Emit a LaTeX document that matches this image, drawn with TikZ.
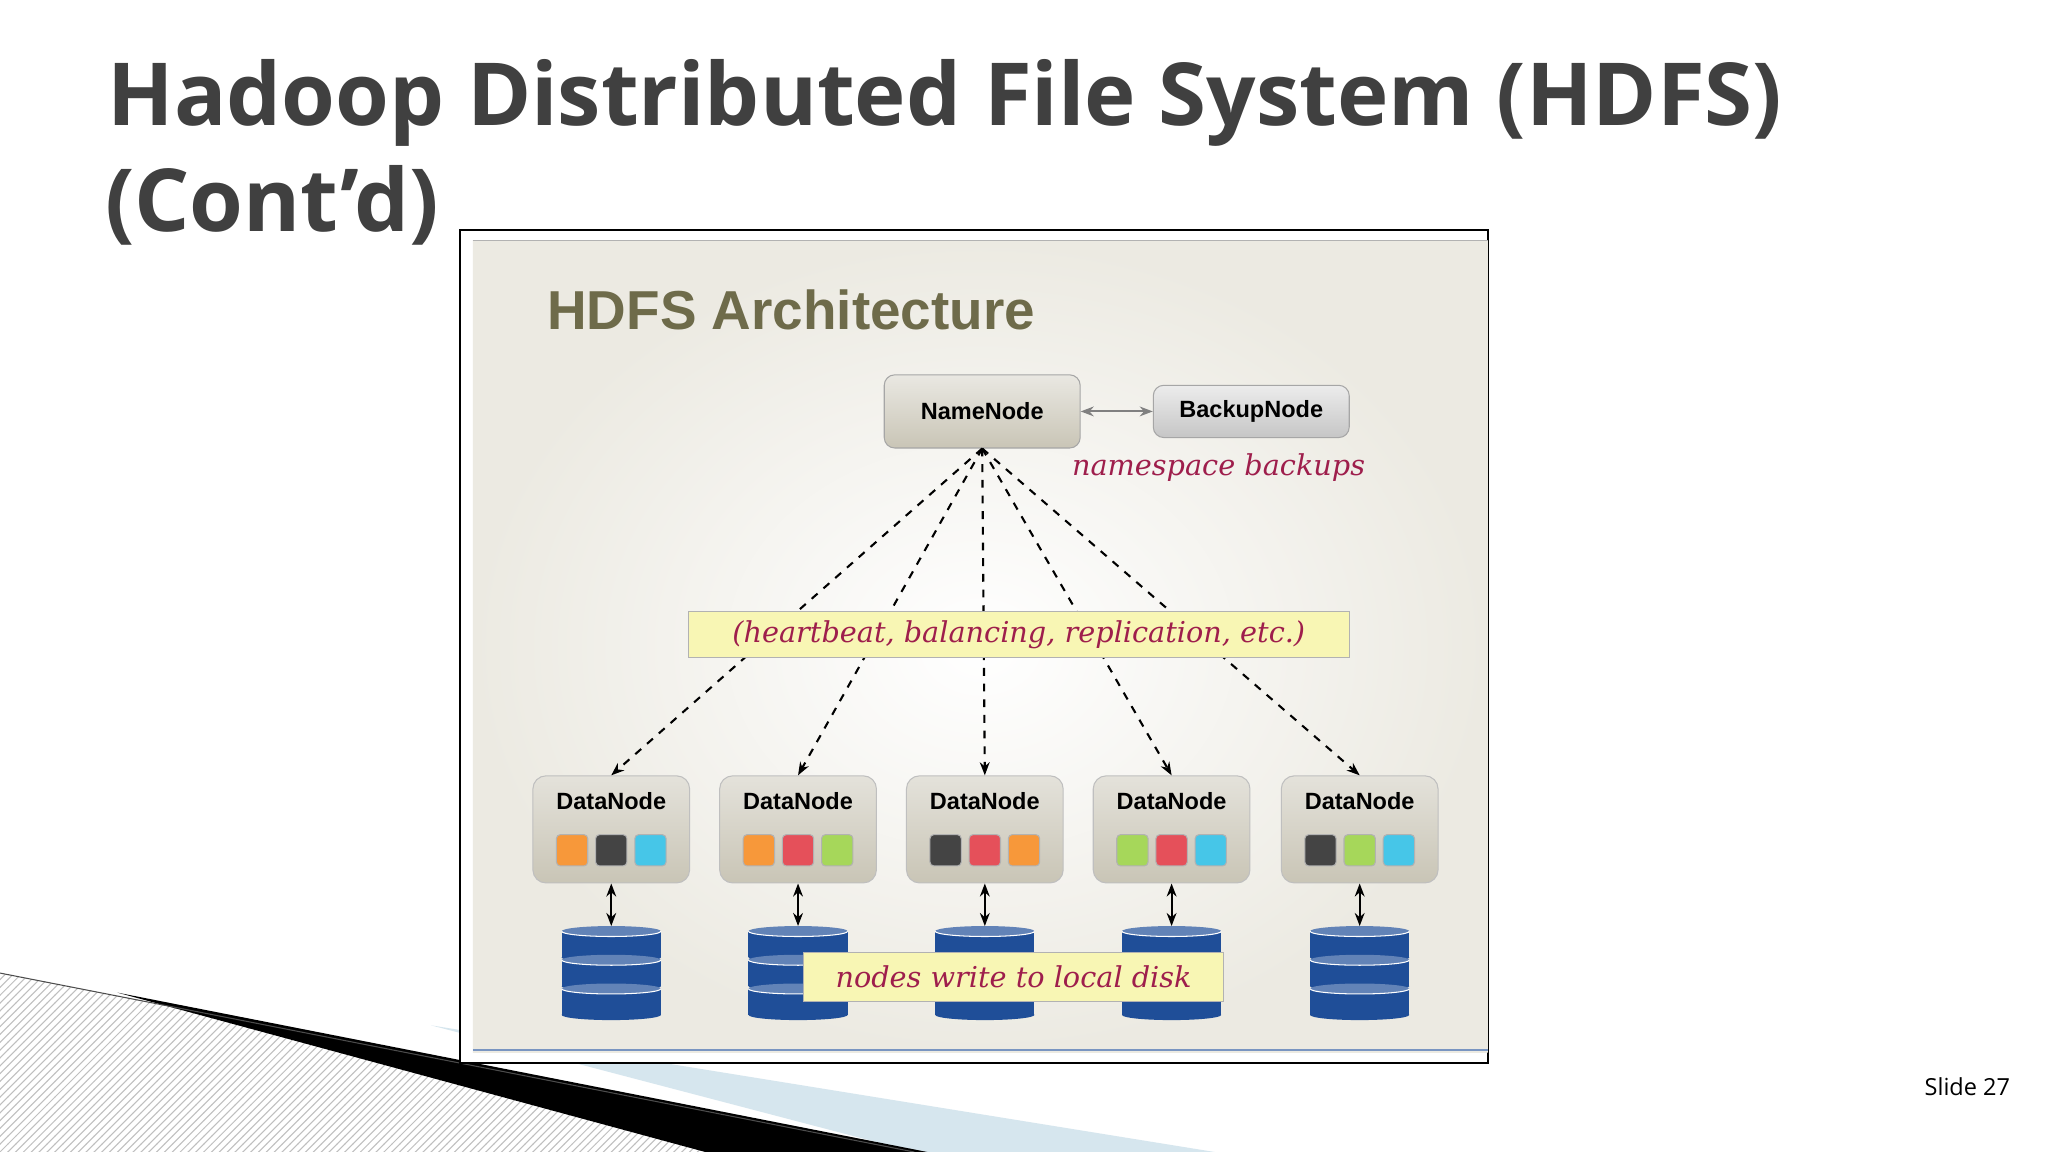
\documentclass[tikz,border=0pt]{standalone}
\usepackage{fontspec}
\setmainfont{Open Sans}
\newfontfamily\lib{Liberation Sans}
\newfontfamily\hand{DejaVu Serif}
\usetikzlibrary{arrows.meta,patterns}
\definecolor{titlec}{HTML}{404040}
\definecolor{bg}{HTML}{ECEAE2}
\definecolor{olive}{HTML}{6E6B4A}
\definecolor{boxg}{HTML}{C9C5B6}
\definecolor{hred}{HTML}{9E1E4C}
\definecolor{lab}{HTML}{F8F6B4}
\definecolor{dblue}{HTML}{1F4E98}
\definecolor{cor}{HTML}{F7983A}
\definecolor{cbk}{HTML}{444444}
\definecolor{ccy}{HTML}{46C6E8}
\definecolor{cre}{HTML}{E5505A}
\definecolor{cgr}{HTML}{A6D75A}
\definecolor{lblue}{HTML}{D6E6EE}
\tikzset{
 srv/.style={draw=gray!70,rounded corners=4pt,top color=boxg!40,bottom color=boxg,font=\lib\bfseries\fontsize{9}{10}\selectfont},
 dn/.style={draw=gray!50,rounded corners=5pt,top color=boxg!50,bottom color=boxg,minimum width=60pt,minimum height=41pt},
 sq/.style={rounded corners=1.5pt,minimum size=12pt,inner sep=0pt,draw=gray!60},
 dasharrow/.style={dashed,thick,-{Stealth[length=5pt]}},
 dbl/.style={thick,{Stealth[length=5pt]}-{Stealth[length=5pt]}},
 note/.style={draw=gray!60,fill=lab,text=hred,font=\hand\itshape\fontsize{11}{12}\selectfont},
}
\newcommand{\disk}[1]{%
 \foreach \k in {0,1,2}{
  \fill[dblue] (#1-38,713+\k*22) rectangle (#1+38,733+\k*22);
  \fill[dblue] (#1,733+\k*22) ellipse (38 and 4);
  \fill[dblue!70!white] (#1,713+\k*22) ellipse (38 and 4);
  \draw[white,thin] (#1-38,713+\k*22) arc[start angle=180,end angle=360,x radius=38,y radius=-4];
 }}
\begin{document}
\begin{tikzpicture}[x=0.5pt,y=-0.5pt]
\useasboundingbox (0,0) rectangle (1568,882);
\fill[white] (0,0) rectangle (1568,882);
% bottom decoration
\fill[pattern=north east lines,pattern color=gray!50] (0,745) -- (700,882) -- (0,882) -- cycle;
\fill[lblue] (330,785) -- (930,882) -- (700,882) -- cycle;
\fill[black] (90,760) -- (710,882) -- (540,882) -- cycle;
\draw[black!70] (0,745) -- (700,882);
% title
\node[anchor=base west,text=titlec,font=\bfseries\fontsize{33.3}{40}\selectfont,inner sep=0pt] (t1) at (82,96) {Hadoop Distributed File System (HDFS)};
\node[anchor=base west,text=titlec,font=\bfseries\fontsize{33.3}{40}\selectfont,inner sep=0pt] (t2) at (80,177) {(Cont’d)};
% image frame
\draw[black,fill=white,line width=0.8pt] (352,176) rectangle (1139,814);
\shade[inner color=white,outer color=bg] (362,184) rectangle (1139,806);
\draw[gray!60] (362,184) -- (1139,184);
\draw[dblue!60,line width=1pt] (362,804) -- (1139,804);
\node[anchor=west,text=olive,font=\lib\bfseries\fontsize{21}{24}\selectfont] (ha) at (412,237) {HDFS Architecture};
\node[srv,minimum width=75pt,minimum height=28pt] (nn) at (752,315) {NameNode};
\node[srv,minimum width=75pt,minimum height=20pt,top color=gray!15,bottom color=gray!45] (bn) at (958,315) {BackupNode};
\draw[dbl,gray] (nn) -- (bn);
\node[text=hred,font=\hand\itshape\fontsize{11}{12}\selectfont] (ns) at (933,358) {namespace backups};
\foreach \i/\x/\a/\b/\c in {1/468/cor/cbk/ccy,2/611/cor/cre/cgr,3/754/cbk/cre/cor,4/897/cgr/cre/ccy,5/1041/cbk/cgr/ccy}{
 \node[dn] (d\i) at (\x,635) {};
 \node[font=\lib\bfseries\fontsize{9}{10}\selectfont] (dl\i) at (\x,613) {DataNode};
 \node[sq,fill=\a] (s\i a) at (\x-30,651) {};
 \node[sq,fill=\b] (s\i b) at (\x,651) {};
 \node[sq,fill=\c] (s\i c) at (\x+30,651) {};
 \draw[dasharrow] (nn.south) -- (d\i.north);
 \disk{\x}
 \coordinate (k\i) at (\x,709);
 \draw[dbl] (d\i.south) -- (k\i);
}
\node[note,minimum width=253pt,minimum height=17pt] (hb) at (780,486) {(heartbeat, balancing, replication, etc.)};
\node[note,minimum width=161pt,minimum height=19pt] (lw) at (776,748) {nodes write to local disk};
\node[anchor=east,font=\fontsize{9}{10}\selectfont] (sl) at (1546,832) {Slide 27};
\end{tikzpicture}
\end{document}
